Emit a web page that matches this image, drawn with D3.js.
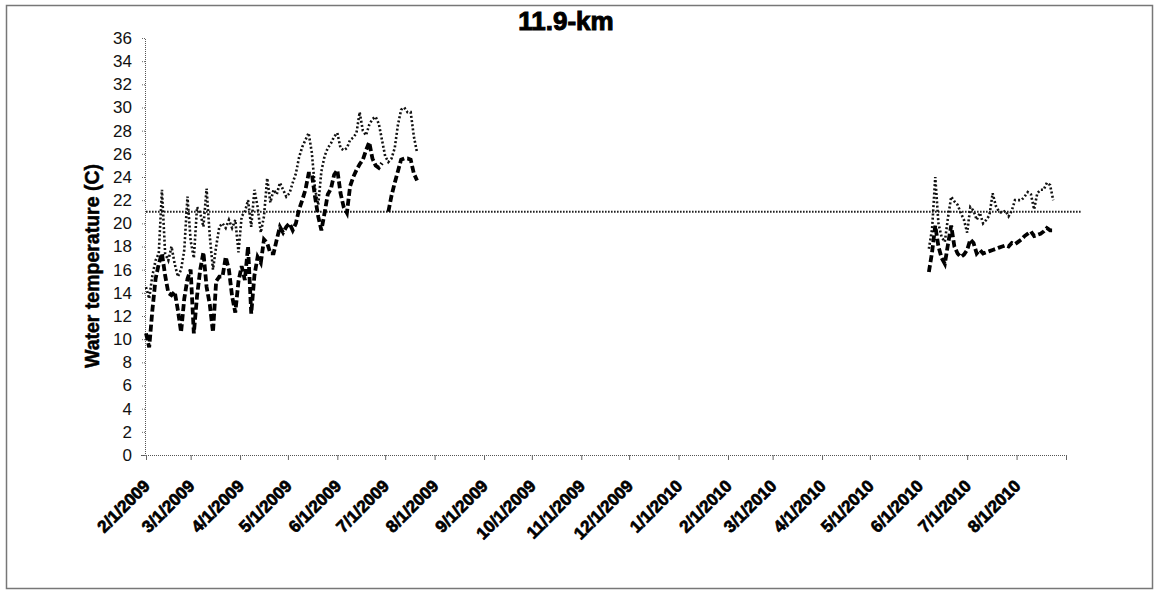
<!DOCTYPE html>
<html><head><meta charset="utf-8">
<script src="https://cdn.jsdelivr.net/npm/d3@7"></script>
<style>body{margin:0;background:#fff}svg{display:block}</style>
</head><body>
<svg id="c" width="1156" height="591"></svg>
<script>
const chartTitle = "11.9-km";
const yTitle = "Water temperature (C)";
const yTicks = [0,2,4,6,8,10,12,14,16,18,20,22,24,26,28,30,32,34,36];
const xTickLabels = ["2/1/2009","3/1/2009","4/1/2009","5/1/2009","6/1/2009","7/1/2009","8/1/2009","9/1/2009","10/1/2009","11/1/2009","12/1/2009","1/1/2010","2/1/2010","3/1/2010","4/1/2010","5/1/2010","6/1/2010","7/1/2010","8/1/2010"];
const xDomain = ["2009-02-01","2010-09-01"];

const dates2009 = ["2009-02-01","2009-02-03","2009-02-05","2009-02-07","2009-02-09","2009-02-11","2009-02-13","2009-02-15","2009-02-17","2009-02-19","2009-02-21","2009-02-23","2009-02-25","2009-02-27","2009-03-01","2009-03-03","2009-03-05","2009-03-07","2009-03-09","2009-03-11","2009-03-13","2009-03-15","2009-03-17","2009-03-19","2009-03-21","2009-03-23","2009-03-25","2009-03-27","2009-03-29","2009-03-31","2009-04-02","2009-04-04","2009-04-06","2009-04-08","2009-04-10","2009-04-12","2009-04-14","2009-04-16","2009-04-18","2009-04-20","2009-04-22","2009-04-24","2009-04-26","2009-04-28","2009-04-30","2009-05-02","2009-05-04","2009-05-06","2009-05-08","2009-05-10","2009-05-12","2009-05-14","2009-05-16","2009-05-18","2009-05-20","2009-05-22","2009-05-24","2009-05-26","2009-05-28","2009-05-30","2009-06-01","2009-06-03","2009-06-05","2009-06-07","2009-06-09","2009-06-11","2009-06-13","2009-06-15","2009-06-17","2009-06-19","2009-06-21","2009-06-23","2009-06-25","2009-06-27","2009-06-29","2009-07-01","2009-07-03","2009-07-05","2009-07-07","2009-07-09","2009-07-11","2009-07-13","2009-07-15","2009-07-17","2009-07-19","2009-07-21"];
const dotted2009 = [14.5,13.5,15.5,16.8,17.4,22.9,17.4,16.8,18.0,16.5,15.4,16.0,17.7,22.3,18.5,17.0,21.4,20.9,19.7,23.0,18.9,16.0,18.0,19.7,20.0,19.6,20.3,19.6,20.3,17.5,20.6,21.0,22.0,19.7,22.9,21.4,19.2,20.6,23.9,21.8,22.9,22.5,23.5,22.9,22.3,22.6,23.5,24.3,25.7,26.6,27.2,27.8,26.1,23.0,21.6,24.5,25.8,26.5,26.9,27.5,27.8,26.5,26.3,26.5,27.2,27.4,27.8,29.6,28.0,27.6,28.5,29.0,29.2,28.6,27.2,25.8,25.3,25.6,26.5,28.5,29.8,30.0,29.6,29.6,27.5,26.1];
const dashed2009 = [10.5,9.3,12.5,15.2,16.5,17.4,15.5,14.0,13.8,14.1,12.5,10.6,13.5,15.2,16.0,10.5,13.7,16.0,17.5,14.5,13.0,10.6,15.0,15.4,15.4,17.1,16.0,13.7,12.3,15.0,16.3,15.1,18.0,12.2,15.5,17.1,16.6,18.6,18.3,17.4,17.4,18.6,19.7,19.2,19.7,20.0,19.4,20.0,21.2,22.0,22.9,24.3,24.3,22.3,20.6,19.4,20.9,22.5,23.0,24.2,24.6,22.6,21.4,20.9,23.2,24.0,24.6,25.1,25.5,26.3,27.0,25.6,25.0,24.8,25.2,null,21.0,22.4,23.5,24.5,25.5,25.6,25.6,25.5,24.3,23.7];

const dates2010 = ["2010-06-07","2010-06-09","2010-06-11","2010-06-13","2010-06-15","2010-06-17","2010-06-19","2010-06-21","2010-06-23","2010-06-25","2010-06-27","2010-06-29","2010-07-01","2010-07-03","2010-07-05","2010-07-07","2010-07-09","2010-07-11","2010-07-13","2010-07-15","2010-07-17","2010-07-19","2010-07-21","2010-07-23","2010-07-25","2010-07-27","2010-07-29","2010-07-31","2010-08-02","2010-08-04","2010-08-06","2010-08-08","2010-08-10","2010-08-12","2010-08-14","2010-08-16","2010-08-18","2010-08-20","2010-08-22","2010-08-24"];
const dotted2010 = [17.8,19.5,24.0,20.0,18.8,18.4,20.5,22.3,21.9,21.6,20.9,20.3,19.2,21.4,21.1,20.3,20.9,20.0,20.3,20.7,22.6,21.5,21.0,20.9,21.1,20.6,21.1,22.0,22.0,22.0,22.3,22.7,22.5,21.2,22.6,22.9,22.9,23.5,23.3,22.0];
const dashed2010 = [15.8,17.5,19.8,18.0,17.0,16.5,18.2,19.8,18.0,17.4,17.1,17.3,17.7,18.6,18.3,17.4,17.7,17.4,17.5,17.6,17.7,17.8,17.9,18.0,18.1,18.0,18.3,18.2,18.4,18.6,18.9,19.1,19.3,18.9,19.0,19.1,19.3,19.6,19.4,19.4];

const thresholdDates = ["2009-02-01","2010-09-11"];
const thresholdValues = [21,21];

const parseISO = d3.timeParse("%Y-%m-%d");
const parseUS = d3.timeParse("%m/%d/%Y");
const svg = d3.select("#c");
const font = "'Liberation Sans', Arial, sans-serif";

// frame
svg.append("rect").attr("x",6.5).attr("y",5.5).attr("width",1146).attr("height",583)
  .attr("fill","#fff").attr("stroke","#777").attr("stroke-width",1.5);

const x = d3.scaleTime().domain(xDomain.map(parseISO)).range([146,1066]);
const y = d3.scaleLinear().domain([0,36]).range([455,38]);

// y axis
const yAxis = svg.append("g").attr("transform","translate(145,0)")
  .call(d3.axisLeft(y).tickValues(yTicks).tickSize(4).tickPadding(9).tickFormat(d3.format("d")));
yAxis.select(".domain").attr("stroke","#555").attr("stroke-dasharray","1,1");
yAxis.selectAll(".tick line").attr("stroke","#666").attr("stroke-dasharray","1,1");
yAxis.selectAll(".tick text").attr("font-family",font).attr("font-size",17).attr("fill","#111");

// x axis
const tickDates = xTickLabels.map(parseUS);
const xAxis = svg.append("g").attr("transform","translate(0,455)")
  .call(d3.axisBottom(x).tickValues(tickDates.concat([parseISO(xDomain[1])])).tickSize(5).tickFormat(""));
xAxis.select(".domain").attr("stroke","#555").attr("stroke-dasharray","1,1");
xAxis.selectAll(".tick line").attr("stroke","#666");
svg.append("g").selectAll("text").data(tickDates).join("text")
  .attr("transform",(d)=>`translate(${x(d)+5},487) rotate(-45)`)
  .attr("text-anchor","end")
  .attr("font-family",font).attr("font-weight","bold").attr("font-size",17).attr("fill","#000")
  .attr("stroke","#000").attr("stroke-width",0.7)
  .text((d,i)=>xTickLabels[i]);

// titles
svg.append("text").attr("x",566).attr("y",30).attr("text-anchor","middle")
  .attr("font-family",font).attr("font-weight","bold").attr("font-size",26)
  .attr("stroke","#000").attr("stroke-width",1).text(chartTitle);
svg.append("text").attr("transform","translate(99,266) rotate(-90)").attr("text-anchor","middle")
  .attr("font-family",font).attr("font-weight","bold").attr("font-size",19.5)
  .attr("stroke","#000").attr("stroke-width",0.5).text(yTitle);

// threshold line
const thr = thresholdDates.map((d,i)=>({d:parseISO(d),v:thresholdValues[i]}));
const line = d3.line().defined(p=>p.v!==null).x(p=>x(p.d)).y(p=>y(p.v));
svg.append("path").datum(thr).attr("d",line).attr("fill","none")
  .attr("stroke","#222").attr("stroke-width",1.8).attr("stroke-dasharray","1.6,1.4");

function series(dates, vals){ return dates.map((d,i)=>({d:parseISO(d),v:vals[i]})); }
const dottedStyle = p=>p.attr("fill","none").attr("stroke","#111").attr("stroke-width",2.6).attr("stroke-dasharray","2,2.2");
const dashedStyle = p=>p.attr("fill","none").attr("stroke","#000").attr("stroke-width",3.8).attr("stroke-dasharray","7,3");

[[dates2009,dotted2009],[dates2010,dotted2010]].forEach(([d,v])=>{
  svg.append("path").datum(series(d,v)).attr("d",line).call(dottedStyle);
});
[[dates2009,dashed2009],[dates2010,dashed2010]].forEach(([d,v])=>{
  svg.append("path").datum(series(d,v)).attr("d",line).call(dashedStyle);
});
</script>
</body></html>
